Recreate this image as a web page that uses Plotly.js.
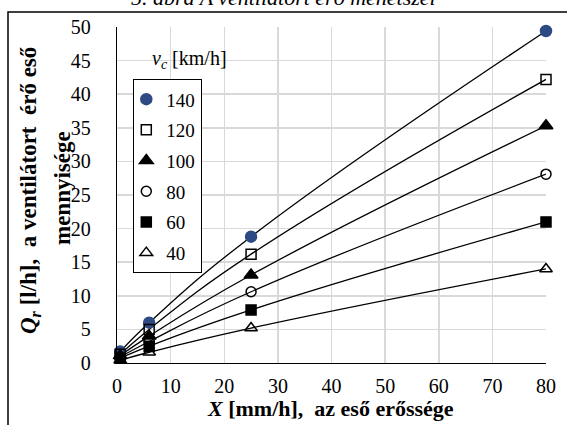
<!DOCTYPE html>
<html>
<head>
<meta charset="utf-8">
<script src="https://cdn.plot.ly/plotly-3.0.1.min.js"></script>
<style>html,body{margin:0;padding:0;background:#fff;}#chart{width:567px;height:425px;}</style>
</head>
<body>
<div id="chart"></div>
<script>
const xs = [0.6, 6, 25, 80];
const speeds = ['140', '120', '100', '80', '60', '40'];
const q140 = [1.7, 6.0, 18.8, 49.4];
const q120 = [1.3, 5.0, 16.2, 42.2];
const q100 = [1.1, 4.0, 13.1, 35.3];
const q80 = [0.9, 3.2, 10.6, 28.1];
const q60 = [0.7, 2.5, 7.9, 21.0];
const q40 = [0.4, 1.6, 5.2, 14.0];
const series = [q140, q120, q100, q80, q60, q40];
const symbols = ['circle', 'square-open', 'triangle-up', 'circle-open', 'square', 'triangle-up-open'];
const colors = ['#2E4A84', '#000', '#000', '#000', '#000', '#000'];
const sizes = [11, 10, 12, 10, 10, 11];

const FONT = 'Liberation Serif';
const traces = [];
series.forEach((ys, i) => {
  traces.push({
    x: xs, y: ys, type: 'scatter', mode: 'lines',
    line: {color: '#000', width: 1.3, shape: 'spline', smoothing: 1.3},
    showlegend: false, hoverinfo: 'skip', cliponaxis: false
  });
});
series.forEach((ys, i) => {
  traces.push({
    x: xs, y: ys, type: 'scatter', mode: 'markers', name: speeds[i],
    legendgroup: 'g' + i,
    marker: {symbol: symbols[i], size: sizes[i], color: colors[i],
             line: {color: colors[i], width: 1.5}},
    cliponaxis: false
  });
});

const L = 117, R = 546, T = 27, B = 363;
const px = v => (v - L) / (R - L);
const py = v => (B - v) / (B - T);

const layout = {
  width: 567, height: 425,
  margin: {l: L, r: 567 - R, t: T, b: 425 - B, pad: 0},
  paper_bgcolor: '#fff', plot_bgcolor: '#fff',
  font: {family: FONT, size: 18, color: '#000'},
  xaxis: {
    range: [0, 80], dtick: 10, tick0: 0,
    showgrid: true, gridcolor: '#d9d9d9', gridwidth: 1.5,
    showline: true, linecolor: '#000', linewidth: 1.3,
    zeroline: false, ticks: '', ticklabelstandoff: 5,
    tickfont: {family: FONT, size: 20, color: '#000'}
  },
  yaxis: {
    range: [0, 50], dtick: 5, tick0: 0,
    showgrid: true, gridcolor: '#d9d9d9', gridwidth: 1.5,
    showline: true, linecolor: '#000', linewidth: 1.3,
    zeroline: false, ticks: '', ticklabelstandoff: 21,
    tickfont: {family: FONT, size: 20, color: '#000'}
  },
  legend: {
    x: px(133), y: py(79), xanchor: 'left', yanchor: 'top',
    bgcolor: '#fff', bordercolor: '#000', borderwidth: 1.3,
    font: {family: FONT, size: 19, color: '#000'},
    traceorder: 'grouped', tracegroupgap: 3, itemwidth: 30, indentation: -8
  },
  annotations: [
    {xref: 'paper', yref: 'paper', x: px(189), y: py(60), xanchor: 'center', yanchor: 'middle',
     text: '<i>v<sub>c</sub></i> [km/h]', showarrow: false,
     font: {family: FONT, size: 20, color: '#000'}},
    {xref: 'paper', yref: 'paper', x: px(30), y: py(191), xanchor: 'center', yanchor: 'middle',
     textangle: -90, showarrow: false,
     text: '<b><i>Q<sub>r</sub></i> [l/h],&nbsp; a ventilátort&nbsp; érő eső</b>',
     font: {family: FONT, size: 23, color: '#000'}},
    {xref: 'paper', yref: 'paper', x: px(62), y: py(188), xanchor: 'center', yanchor: 'middle',
     textangle: -90, showarrow: false,
     text: '<b>mennyisége</b>',
     font: {family: FONT, size: 23, color: '#000'}},
    {xref: 'paper', yref: 'paper', x: px(330), y: py(408), xanchor: 'center', yanchor: 'middle',
     showarrow: false,
     text: '<b><i>X</i> [mm/h],&nbsp; az eső erőssége</b>',
     font: {family: FONT, size: 22, color: '#000'}},
    {xref: 'paper', yref: 'paper', x: px(283), y: py(-3), xanchor: 'center', yanchor: 'middle',
     showarrow: false,
     text: '<i>5. ábra A ventilátort érő menetszél</i>',
     font: {family: FONT, size: 22, color: '#000'}}
  ],
  shapes: [
    {type: 'rect', xref: 'paper', yref: 'paper', x0: px(8), x1: px(700), y0: py(600), y1: py(12),
     line: {color: '#000', width: 1.5}, fillcolor: 'rgba(0,0,0,0)', layer: 'below'}
  ]
};

Plotly.newPlot('chart', traces, layout, {displayModeBar: false, staticPlot: true});
</script>
</body>
</html>
